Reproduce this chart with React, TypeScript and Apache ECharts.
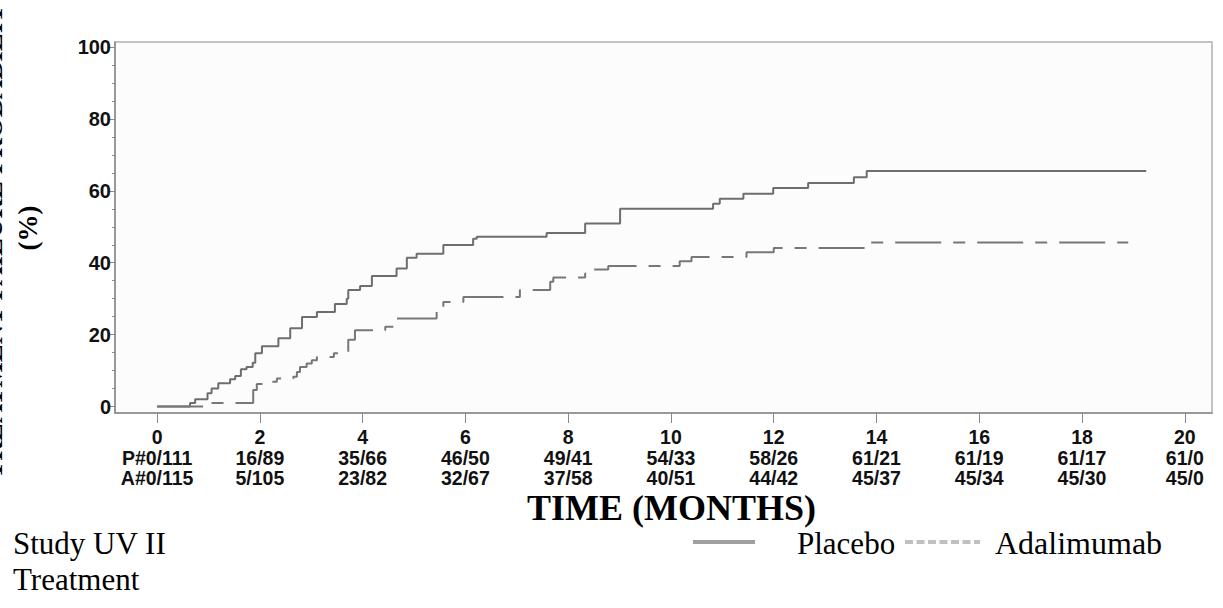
import React, { useEffect, useRef } from "react";
import * as echarts from "echarts";

// ---- data ----
const xTicks = [0, 2, 4, 6, 8, 10, 12, 14, 16, 18, 20];
const placeboAtRisk = ["P#0/111", "16/89", "35/66", "46/50", "49/41", "54/33", "58/26", "61/21", "61/19", "61/17", "61/0"];
const adaAtRisk = ["A#0/115", "5/105", "23/82", "32/67", "37/58", "40/51", "44/42", "45/37", "45/34", "45/30", "45/0"];
const yTicks = [0, 20, 40, 60, 80, 100];
const yMinorTicks = [5, 10, 15, 25, 30, 35, 45, 50, 55, 65, 70, 75, 85, 90, 95];

const placeboTimes = [0, 0.64, 0.74, 0.98, 1.06, 1.19, 1.42, 1.52, 1.63, 1.74, 1.86, 1.91, 2.04, 2.36, 2.59, 2.82, 3.11, 3.46, 3.69, 3.72, 3.95, 4.18, 4.66, 4.86, 5.05, 5.57, 6.15, 6.22, 7.58, 8.33, 9.01, 10.82, 10.95, 11.41, 11.99, 12.67, 13.56, 13.81, 19.25];
const placeboValues = [0, 1.0, 2.0, 3.7, 5.0, 6.5, 7.6, 8.5, 10.4, 11.0, 12.2, 14.8, 16.8, 19.0, 21.8, 24.9, 26.3, 28.5, 30.0, 32.4, 33.5, 36.3, 38.4, 41.4, 42.5, 44.9, 46.7, 47.2, 48.3, 50.9, 55.0, 56.4, 57.8, 59.2, 60.8, 62.2, 63.8, 65.5, 65.5];

const adaTimes = [0, 0.97, 1.87, 1.94, 2.07, 2.33, 2.65, 2.72, 2.78, 2.91, 3.01, 3.11, 3.44, 3.72, 3.85, 4.44, 4.66, 5.44, 5.57, 5.96, 7.06, 7.65, 7.71, 8.33, 8.42, 8.78, 10.17, 10.4, 11.47, 12.0, 13.87, 18.9];
const adaValues = [0, 1.0, 4.6, 6.3, 6.9, 7.8, 8.3, 9.6, 11.0, 12.0, 12.9, 13.8, 14.8, 18.6, 21.2, 22.2, 24.5, 26.8, 29.1, 30.5, 32.4, 34.7, 35.9, 37.0, 38.1, 39.1, 40.4, 41.6, 42.9, 44.1, 45.6, 45.6];

const SERIF = "'Liberation Serif', 'Times New Roman', serif";
const SANS = "'Liberation Sans', Arial, sans-serif";

export default function App() {
  const ref = useRef<HTMLDivElement>(null);

  useEffect(() => {
    if (!ref.current) return;
    const chart = echarts.init(ref.current, undefined, { renderer: "svg" });
    const option: any = {
      animation: false,
      backgroundColor: "#ffffff",
      grid: {
        left: 115,
        right: 11,
        top: 42,
        bottom: 195,
        show: true,
        borderColor: "#b0b0b0",
        borderWidth: 1.5,
        backgroundColor: "#fcfcfc",
      },
      xAxis: {
        type: "value",
        min: -0.82,
        max: 20.53,
        axisLine: { show: true, onZero: false, lineStyle: { color: "#8a8a8a", width: 1.5 } },
        axisTick: { show: true, customValues: xTicks, length: 10, lineStyle: { color: "#8a8a8a", width: 1 } },
        axisLabel: {
          customValues: xTicks,
          margin: 14,
          fontFamily: SANS,
          fontWeight: "bold",
          fontSize: 19.5,
          lineHeight: 20.5,
          color: "#111",
          formatter: (v: number) => {
            const i = xTicks.indexOf(Math.round(v));
            return `${xTicks[i]}\n${placeboAtRisk[i]}\n${adaAtRisk[i]}`;
          },
        },
        splitLine: { show: false },
        name: "TIME (MONTHS)",
        nameLocation: "middle",
        nameGap: 95,
        nameMoveOverlap: false,
        nameTextStyle: {
          fontFamily: SERIF,
          fontWeight: "bold",
          fontSize: 36,
          color: "#000",
          verticalAlign: "middle",
          padding: [0, 0, 0, 16],
        },
      },
      yAxis: [
        {
          type: "value",
          min: -1.8,
          max: 101.4,
          axisLine: { show: true, onZero: false, lineStyle: { color: "#8a8a8a", width: 1.5 } },
          axisTick: { show: true, customValues: yTicks, length: 5, lineStyle: { color: "#8a8a8a" } },
          axisLabel: {
            customValues: yTicks,
            margin: 4,
            fontFamily: SANS,
            fontWeight: "bold",
            fontSize: 20,
            color: "#111",
          },
          splitLine: { show: false },
        },
        {
          type: "value",
          min: -1.8,
          max: 101.4,
          position: "left",
          axisLine: { show: false, onZero: false },
          axisTick: { show: true, customValues: yMinorTicks, length: 3, lineStyle: { color: "#8a8a8a" } },
          axisLabel: { show: false },
          splitLine: { show: false },
        },
      ],
      series: [
        {
          name: "Placebo",
          type: "line",
          step: "end",
          showSymbol: false,
          symbol: "none",
          data: placeboTimes.map((t, i) => [t, placeboValues[i]]),
          lineStyle: { color: "#6e6e6e", width: 2, type: "solid" },
        },
        {
          name: "Adalimumab",
          type: "line",
          step: "end",
          showSymbol: false,
          symbol: "none",
          data: adaTimes.map((t, i) => [t, adaValues[i]]),
          lineStyle: { color: "#777777", width: 2, type: [46, 12, 12, 12] },
        },
      ],
      graphic: [
        {
          type: "text",
          x: 6,
          y: 232,
          rotation: Math.PI / 2,
          style: {
            text: "TREATMENT FAILURE PROBABILITY",
            fontFamily: SERIF,
            fontWeight: "bold",
            fontSize: 27,
            fill: "#000",
            align: "center",
            verticalAlign: "bottom",
          },
        },
        {
          type: "text",
          x: 28,
          y: 228,
          rotation: Math.PI / 2,
          style: {
            text: "(%)",
            fontFamily: SERIF,
            fontWeight: "bold",
            fontSize: 27,
            fill: "#000",
            align: "center",
            verticalAlign: "middle",
          },
        },
        {
          type: "text",
          x: 13,
          y: 543,
          style: { text: "Study UV II", fontFamily: SERIF, fontSize: 31, fill: "#000", verticalAlign: "middle" },
        },
        {
          type: "text",
          x: 13,
          y: 579,
          style: { text: "Treatment", fontFamily: SERIF, fontSize: 31, fill: "#000", verticalAlign: "middle" },
        },
        {
          type: "line",
          shape: { x1: 693, y1: 542, x2: 755, y2: 542 },
          style: { stroke: "#a0a0a0", lineWidth: 4 },
        },
        {
          type: "text",
          x: 797,
          y: 543,
          style: { text: "Placebo", fontFamily: SERIF, fontSize: 31, fill: "#000", verticalAlign: "middle" },
        },
        {
          type: "line",
          shape: { x1: 905, y1: 542, x2: 980, y2: 542 },
          style: { stroke: "#c0c0c0", lineWidth: 4, lineDash: [8, 3.5] },
        },
        {
          type: "text",
          x: 995,
          y: 543,
          style: { text: "Adalimumab", fontFamily: SERIF, fontSize: 32, fill: "#000", verticalAlign: "middle" },
        },
      ],
    };
    chart.setOption(option);
    return () => chart.dispose();
  }, []);

  return <div ref={ref} style={{ width: 1223, height: 608, position: "absolute", left: 0, top: 0 }} />;
}
